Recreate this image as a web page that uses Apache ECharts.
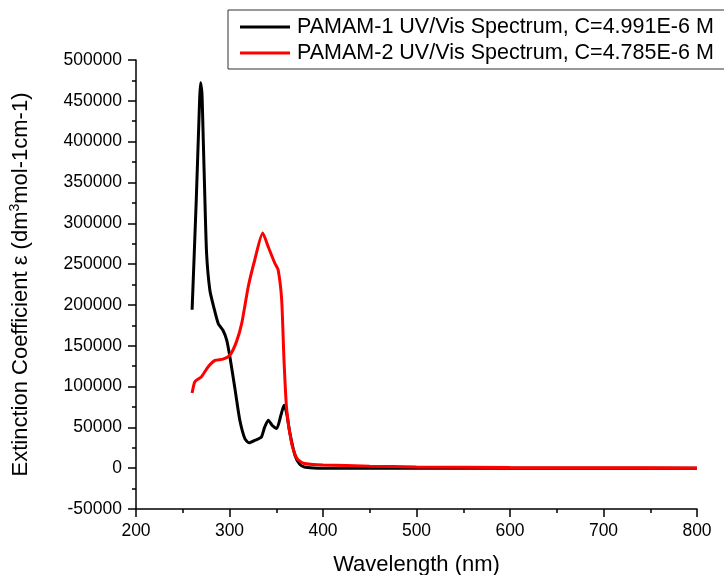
<!DOCTYPE html>
<html>
<head>
<meta charset="utf-8">
<script src="https://cdn.jsdelivr.net/npm/echarts@6/dist/echarts.min.js"></script>
<style>html,body{margin:0;padding:0;background:#fff;}#c{width:724px;height:575px;}</style>
</head>
<body>
<div id="c"></div>
<script>
var seriesNames = ['PAMAM-1 UV/Vis Spectrum, C=4.991E-6 M', 'PAMAM-2 UV/Vis Spectrum, C=4.785E-6 M'];
var xTicks = { min: 200, max: 800, step: 100 };
var yTicks = { min: -50000, max: 500000, step: 50000 };

var pamam1X = [260, 264.5, 268, 269, 270.5, 272, 273.5, 275.5, 279, 283, 288, 293, 297, 300.5, 306, 311, 316.5, 321, 327, 334, 337.5, 341.5, 346, 350.5, 355, 358.3, 361, 364.7, 370, 375, 380, 390, 400, 450, 500, 600, 700, 800];
var pamam1Y = [194000, 330000, 450000, 472000, 460000, 400000, 337000, 263000, 218000, 198000, 177000, 169000, 157000, 136000, 96000, 59000, 36000, 31000, 34000, 38000, 50000, 58800, 52000, 48600, 65000, 77200, 68000, 42500, 15900, 5000, 1500, 300, 0, 0, 0, 0, 0, 0];

var pamam2X = [260, 263, 270, 277, 284.5, 293, 300.5, 307.5, 313, 320, 327, 335.5, 341.5, 348.5, 352, 355.8, 358.3, 361.2, 366.5, 372, 379, 390, 400, 450, 500, 600, 700, 800];
var pamam2Y = [92000, 106000, 112000, 124000, 132000, 133500, 138500, 155000, 177000, 222000, 255000, 288000, 271000, 251000, 243000, 206000, 132000, 71000, 30000, 12000, 6000, 4500, 4000, 2500, 1500, 800, 500, 300];

function zip(xs, ys) { return xs.map(function (x, i) { return [x, ys[i]]; }); }

var chart = echarts.init(document.getElementById('c'), null, { renderer: 'canvas' });
var font = 'Liberation Sans, Arial, sans-serif';
chart.setOption({
  animation: false,
  backgroundColor: '#fff',
  textStyle: { fontFamily: font, color: '#000' },
  grid: { left: 136, right: 27, top: 60, bottom: 66, containLabel: false, outerBoundsMode: 'none' },
  legend: {
    orient: 'vertical',
    left: 228, top: 10,
    padding: [6, 40, 5, 12],
    borderColor: '#333', borderWidth: 1,
    backgroundColor: '#fff',
    itemWidth: 50, itemHeight: 3, itemGap: 4,
    icon: 'rect',
    textStyle: { fontFamily: font, fontSize: 21.5, color: '#000', padding: [0, 0, 0, 2] },
    data: seriesNames
  },
  xAxis: {
    type: 'value',
    min: xTicks.min, max: xTicks.max, interval: xTicks.step,
    name: 'Wavelength (nm)', nameLocation: 'middle', nameGap: 45,
    nameTextStyle: { fontFamily: font, fontSize: 22, color: '#000' },
    axisLine: { onZero: false, lineStyle: { color: '#000', width: 1.5 } },
    axisTick: { show: true, inside: false, length: 8, lineStyle: { color: '#000', width: 1.5 } },
    minorTick: { show: true, splitNumber: 2, length: 4, lineStyle: { color: '#000', width: 1.5 } },
    splitLine: { show: false },
    axisLabel: { fontFamily: font, fontSize: 17.5, color: '#000', margin: 13 }
  },
  yAxis: {
    type: 'value',
    min: yTicks.min, max: yTicks.max, interval: yTicks.step,
    name: 'Extinction Coefficient ε (dm{sup|3}mol-1cm-1)', nameLocation: 'middle', nameGap: 102,
    nameTextStyle: {
      fontFamily: font, fontSize: 22, color: '#000',
      rich: { sup: { fontFamily: font, fontSize: 14, color: '#000', verticalAlign: 'top', padding: [0, 0, 12, 0] } }
    },
    axisLine: { onZero: false, lineStyle: { color: '#000', width: 1.5 } },
    axisTick: { show: true, inside: false, length: 8, lineStyle: { color: '#000', width: 1.5 } },
    minorTick: { show: true, splitNumber: 2, length: 4, lineStyle: { color: '#000', width: 1.5 } },
    splitLine: { show: false },
    axisLabel: { fontFamily: font, fontSize: 17.5, color: '#000', margin: 14, formatter: function (v) { return String(v); } }
  },
  series: [
    { name: seriesNames[0], type: 'line', data: zip(pamam1X, pamam1Y), showSymbol: false, smooth: 0.2,
      lineStyle: { color: '#000', width: 3 }, itemStyle: { color: '#000' }, z: 2 },
    { name: seriesNames[1], type: 'line', data: zip(pamam2X, pamam2Y), showSymbol: false, smooth: 0.2,
      lineStyle: { color: '#ff0000', width: 3 }, itemStyle: { color: '#ff0000' }, z: 3 }
  ]
});
</script>
</body>
</html>
